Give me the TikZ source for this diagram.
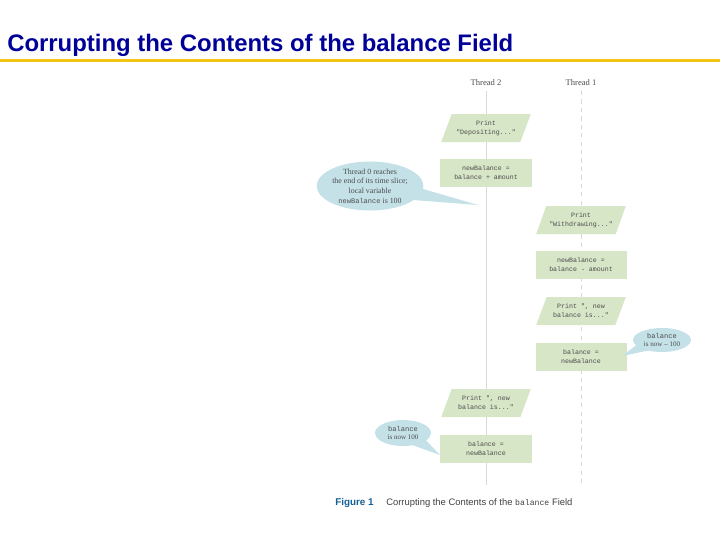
\documentclass[tikz,border=0pt]{standalone}
\usepackage{fontspec}
\setmainfont{Liberation Serif}
\setsansfont{Liberation Sans}
\setmonofont{Liberation Mono}
\usetikzlibrary{shapes.geometric,shapes.callouts}

\definecolor{titleblue}{RGB}{0,0,153}
\definecolor{rulegold}{RGB}{244,196,20}
\definecolor{stepgreen}{RGB}{216,230,200}
\definecolor{notecyan}{RGB}{196,225,232}
\definecolor{lanegray}{RGB}{218,218,212}
\definecolor{figblue}{RGB}{20,95,150}

\tikzset{
  stepbox/.style={fill=stepgreen,minimum width=2.275cm,minimum height=.7cm,
    inner sep=1pt,align=center,text=black!70,
    font=\fontsize{4.7}{6.4}\selectfont\ttfamily},
  printbox/.style={stepbox,trapezium,trapezium left angle=62,
    trapezium right angle=118,trapezium stretches=true,minimum width=2.25cm},
  note/.style={ellipse callout,fill=notecyan,align=center,inner sep=0pt,
    callout pointer arc=28,text=black!70,
    font=\fontsize{5.6}{6.9}\selectfont},
  lane/.style={lanegray,line width=.7pt},
}

\begin{document}
\begin{tikzpicture}[x=.025cm,y=-.025cm]
    \useasboundingbox (0,0) rectangle (720,540);

    % Slide heading and rule.
    \node[anchor=base west,inner sep=0pt,text=titleblue,
      font=\fontsize{17}{19}\selectfont\sffamily\bfseries] (title) at (7,51)
      {Corrupting the Contents of the balance Field};
    \draw[rulegold,line width=2.8pt] (0,60.5) -- (720,60.5);

    % The two threads.
    \node[font=\fontsize{6.1}{7}\selectfont,text=black!70] (thr2) at (486,83) {Thread 2};
    \node[font=\fontsize{6.1}{7}\selectfont,text=black!70] (thr1) at (581,83) {Thread 1};
    \coordinate (end2) at (486,485);
    \coordinate (end1) at (581,485);
    \draw[lane] (thr2.south) -- (end2);
    \draw[lane,dashed] (thr1.south) -- (end1);

    % Steps of thread 2 (first time slice).
    \node[printbox] (dep) at (486,128) {Print\\"Depositing..."};
    \node[stepbox] (add) at (486,173) {newBalance =\\balance + amount};

    % Steps of thread 1.
    \node[printbox] (wdr) at (581,220) {Print\\"Withdrawing..."};
    \node[stepbox] (sub) at (581,265) {newBalance =\\balance - amount};
    \node[printbox] (out1) at (581,311) {Print ", new\\balance is..."};
    \node[stepbox] (set1) at (581,357) {balance =\\newBalance};

    % Steps of thread 2 (second time slice).
    \node[printbox] (out2) at (486,403) {Print ", new\\balance is..."};
    \node[stepbox] (set2) at (486,449) {balance =\\newBalance};

    % Notes.
    \coordinate (tipA) at (478,205);
    \node[note,minimum width=2.5cm,minimum height=1.2cm,
      callout absolute pointer={(tipA)}] (slice) at (370,186)
      {Thread 0 reaches\\the end of its time slice;\\local variable\\
       {\ttfamily\fontsize{5}{6.9}\selectfont newBalance} is 100};
    \coordinate (tipB) at (622,356);
    \node[note,minimum width=1.45cm,minimum height=.6cm,callout pointer arc=35,
      font=\fontsize{5}{6.2}\selectfont,
      callout absolute pointer={(tipB)}] (now1) at (662,340)
      {{\ttfamily balance}\\is now -- 100};
    \coordinate (tipC) at (440,455);
    \node[note,minimum width=1.4cm,minimum height=.65cm,callout pointer arc=35,
      font=\fontsize{5}{6.2}\selectfont,
      callout absolute pointer={(tipC)}] (now2) at (403,433)
      {{\ttfamily balance}\\is now 100};

    % Figure caption.
    \node[anchor=base west,inner sep=0pt,text=figblue,
      font=\fontsize{7}{8}\selectfont\sffamily\bfseries] (fig) at (335,505)
      {Figure 1};
    \node[anchor=base west,inner sep=0pt,text=black!75,
      font=\fontsize{6.7}{8}\selectfont\sffamily] (cap) at (386,505)
      {Corrupting the Contents of the {\ttfamily\fontsize{5.8}{8}\selectfont balance} Field};
  \end{tikzpicture}
\end{document}
